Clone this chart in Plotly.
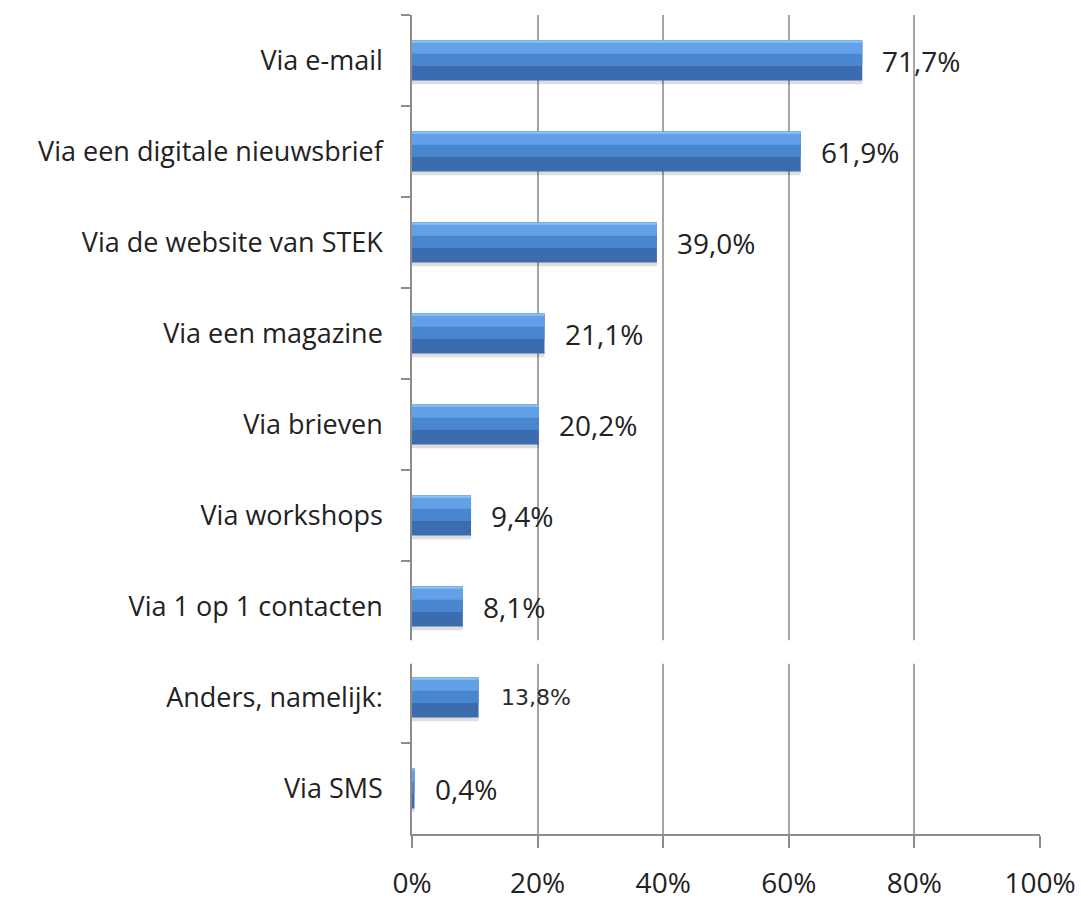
import plotly.graph_objects as go

categories = ["Via e-mail", "Via een digitale nieuwsbrief", "Via de website van STEK",
              "Via een magazine", "Via brieven", "Via workshops", "Via 1 op 1 contacten",
              "Anders, namelijk:", "Via SMS"]
values = [71.7, 61.9, 39.0, 21.1, 20.2, 9.4, 8.1, 10.6, 0.4]
labels = ["71,7%", "61,9%", "39,0%", "21,1%", "20,2%", "9,4%", "8,1%", "13,8%", "0,4%"]
tick_vals = [0, 20, 40, 60, 80, 100]
tick_text = ["0%", "20%", "40%", "60%", "80%", "100%"]

FONT = "Open Sans, sans-serif"

fig = go.Figure()
# soft shadow under each bar
fig.add_trace(go.Bar(
    y=categories, x=values, orientation="h", width=0.06, offset=0.2,
    marker=dict(color="rgba(0,0,0,0.13)", line=dict(width=0)),
    hoverinfo="skip", showlegend=False,
))
# main bar body (darker lower part)
fig.add_trace(go.Bar(
    y=categories, x=values, orientation="h", width=0.44, offset=-0.22,
    marker=dict(color="#3A6CAE", line=dict(width=0)),
    hoverinfo="skip", showlegend=False,
))
# mid-tone upper half
fig.add_trace(go.Bar(
    y=categories, x=values, orientation="h", width=0.28, offset=-0.22,
    marker=dict(color="#4A85D0", line=dict(width=0)),
    hoverinfo="skip", showlegend=False,
))
# light band near top
fig.add_trace(go.Bar(
    y=categories, x=values, orientation="h", width=0.13, offset=-0.205,
    marker=dict(color="#62A0E8", line=dict(width=0)),
    hoverinfo="skip", showlegend=False,
))
# top edge
fig.add_trace(go.Bar(
    y=categories, x=values, orientation="h", width=0.025, offset=-0.22,
    marker=dict(color="#8DC1F4", line=dict(width=0)),
    hoverinfo="skip", showlegend=False,
))

annotations = []
for c, v, t in zip(categories, values, labels):
    special = (t == "13,8%")
    annotations.append(dict(
        x=v, y=c, xref="x", yref="y", text=t, showarrow=False,
        xanchor="left", yanchor="middle", xshift=18 if not special else 20,
        font=dict(family="DejaVu Sans, sans-serif" if special else FONT,
                  size=22 if special else 28, color="#2a2a2a" if special else "#222222"),
    ))

fig.update_layout(
    width=1084, height=900,
    margin=dict(l=404, r=52, t=7, b=69),
    paper_bgcolor="white", plot_bgcolor="white",
    barmode="overlay",
    annotations=annotations,
    font=dict(family=FONT, size=28, color="#222222"),
    shapes=[dict(type="rect", xref="paper", yref="y", x0=-0.05, x1=1.02,
                 y0=6.37, y1=6.63, fillcolor="white", line=dict(width=0), layer="above")],
)
fig.update_xaxes(
    range=[0, 100], tickvals=tick_vals, ticktext=tick_text,
    showgrid=True, gridcolor="#A6A6A6", gridwidth=1.5,
    showline=True, linecolor="#8C8C8C", linewidth=1.5,
    ticks="outside", ticklen=12, tickcolor="#8C8C8C", tickwidth=1.5,
    ticklabelstandoff=12, zeroline=False,
    tickfont=dict(family=FONT, size=28, color="#222222"),
)
fig.update_yaxes(
    autorange="reversed", categoryorder="array", categoryarray=categories,
    showline=True, linecolor="#8C8C8C", linewidth=1.5,
    ticks="outside", ticklen=9, tickcolor="#8C8C8C", tickwidth=1.5,
    tickson="boundaries", showgrid=False,
    ticklabelstandoff=22,
    tickfont=dict(family=FONT, size=27, color="#222222"),
)

fig.write_html("out.html")
